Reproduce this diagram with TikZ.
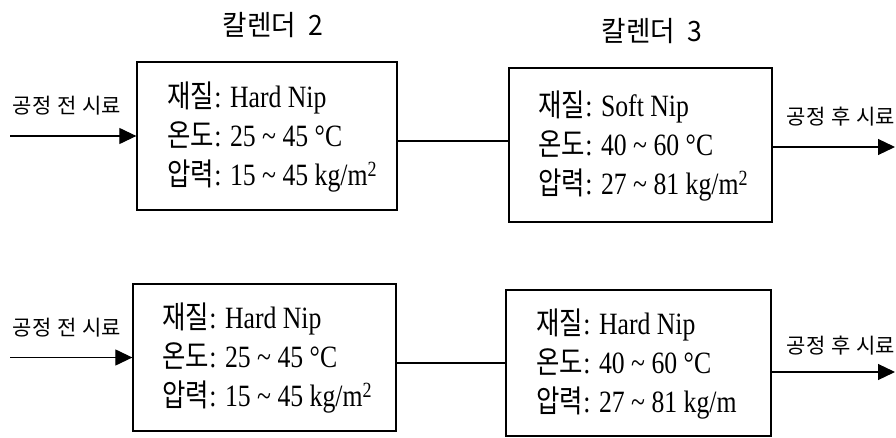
\documentclass[tikz,border=0pt]{standalone}
\usepackage{fontspec}
\setmainfont[FakeStretch=0.83]{Liberation Serif}
\newfontfamily\kr[FakeStretch=0.82]{Noto Sans CJK KR}
\newfontfamily\krt[FakeStretch=0.95]{Noto Sans CJK KR}
\newfontfamily\krl[FakeStretch=1.0]{Noto Sans CJK KR}
\usetikzlibrary{arrows.meta}
\begin{document}
\begin{tikzpicture}[x=1pt,y=-1pt,
  box/.style={draw, line width=1.3pt, inner sep=0pt},
  info/.style={inner sep=0pt, align=left, anchor=west, font=\fontsize{31}{39}\selectfont},
  flow/.style={line width=1.2pt},
  arr/.style={flow, -{Triangle[length=17pt,width=16pt]}},
  title/.style={inner sep=0pt, font=\krt\fontsize{28}{30}\selectfont},
  side/.style={inner sep=0pt, font=\krl\fontsize{21}{23}\selectfont}]
\useasboundingbox (0,0) rectangle (896,438);
% boxes
\node[box, minimum width=260pt, minimum height=148pt] (b1) at (267,136) {};
\node[box, minimum width=263pt, minimum height=154pt] (b2) at (640.5,145) {};
\node[box, minimum width=263pt, minimum height=147pt] (b3) at (264.5,357.5) {};
\node[box, minimum width=265pt, minimum height=146pt] (b4) at (638.5,363) {};
% box texts
\node[info] (t1) at ([xshift=31pt,yshift=-1pt]b1.west) {{\kr 재질}: Hard Nip\\{\kr 온도}: 25 \textasciitilde{} 45 °C\\{\kr 압력}: 15 \textasciitilde{} 45 kg/m\textsuperscript{2}};
\node[info] (t2) at ([xshift=30pt,yshift=-1pt]b2.west) {{\kr 재질}: Soft Nip\\{\kr 온도}: 40 \textasciitilde{} 60 °C\\{\kr 압력}: 27 \textasciitilde{} 81 kg/m\textsuperscript{2}};
\node[info] (t3) at ([xshift=30pt,yshift=-1pt]b3.west) {{\kr 재질}: Hard Nip\\{\kr 온도}: 25 \textasciitilde{} 45 °C\\{\kr 압력}: 15 \textasciitilde{} 45 kg/m\textsuperscript{2}};
\node[info] (t4) at ([xshift=31pt,yshift=-1pt]b4.west) {{\kr 재질}: Hard Nip\\{\kr 온도}: 40 \textasciitilde{} 60 °C\\{\kr 압력}: 27 \textasciitilde{} 81 kg/m};
% titles
\node[title] (h1) at (273,25) {칼렌더\hspace{12pt}2};
\node[title] (h2) at (652,31) {칼렌더\hspace{12pt}3};
% side labels
\node[side] (l1) at (67,106) {공정\hspace{6pt}전\hspace{6pt}시료};
\node[side] (r1) at (841,117) {공정\hspace{6pt}후\hspace{6pt}시료};
\node[side] (l2) at (67,328) {공정\hspace{6pt}전\hspace{6pt}시료};
\node[side] (r2) at (841,346) {공정\hspace{6pt}후\hspace{6pt}시료};
% connectors
\coordinate (in1) at (10,136);
\coordinate (m1) at (450,141);
\coordinate (o1) at (895,147);
\coordinate (in2) at (10,357.5);
\coordinate (m2) at (450,363);
\coordinate (o2) at (895,372);
\draw[arr] (in1) -- (b1.west);
\draw[flow] (b1.east |- m1) -- (b2.west |- m1);
\draw[arr] (b2.east |- o1) -- (o1);
\draw[arr] (in2) -- (b3.west);
\draw[flow] (b3.east |- m2) -- (b4.west |- m2);
\draw[arr] (b4.east |- o2) -- (o2);
\end{tikzpicture}
\end{document}
